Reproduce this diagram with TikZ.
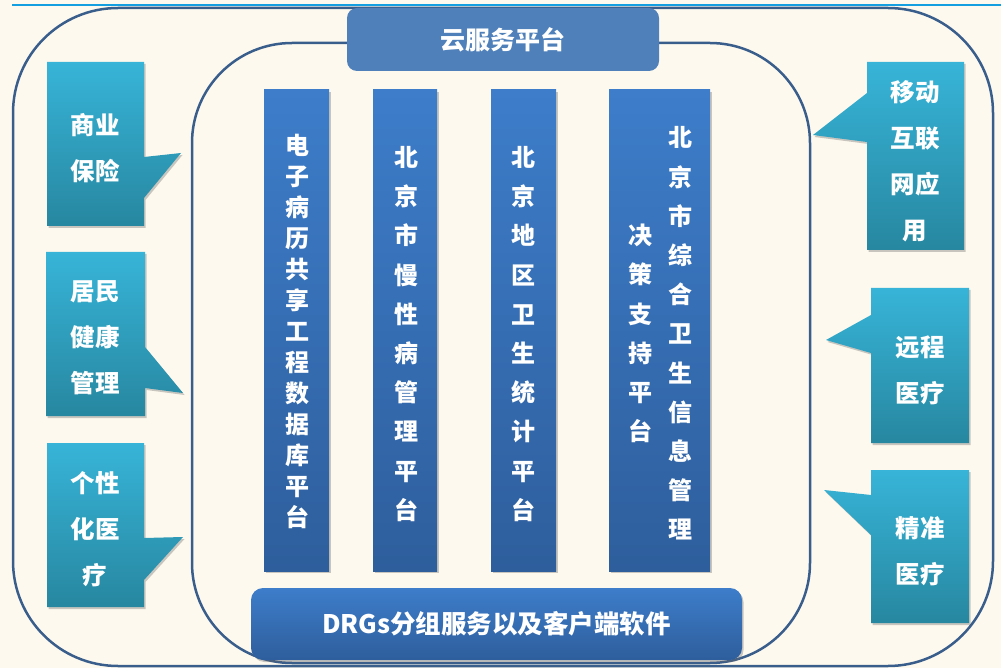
\documentclass[tikz,border=0pt]{standalone}
\usepackage{fontspec}
\setmainfont{Noto Sans CJK SC}
\usetikzlibrary{shadows}
\definecolor{bgc}{HTML}{FEF9EE}
\definecolor{framec}{HTML}{3A5E8C}
\definecolor{topline}{HTML}{14A0E0}
\definecolor{cloudc}{HTML}{4F80BA}
\definecolor{coltop}{HTML}{3D7DCA}
\definecolor{colbot}{HTML}{2E5E9C}
\definecolor{caltop}{HTML}{37B4D8}
\definecolor{calbot}{HTML}{2787A0}
\begin{document}
\begin{tikzpicture}[x=1pt,y=-1pt,
  frame/.style={draw=framec,line width=2.5pt},
  shadowed/.style={drop shadow={shadow xshift=1.5pt,shadow yshift=-2pt,opacity=0.35,fill=black!60}},
  callout/.style={top color=caltop,bottom color=calbot,shadowed},
  colbox/.style={top color=coltop,bottom color=colbot,shadowed,inner sep=0pt,draw=none},
  cloudbox/.style={fill=cloudc,rounded corners=10pt,inner sep=0pt,text=white,font=\bfseries\fontsize{25}{28}\selectfont},
  barbox/.style={top color=coltop,bottom color=colbot,shadowed,rounded corners=12pt,inner sep=0pt,text=white,font=\bfseries\fontsize{25.5}{30}\selectfont},
  lbl/.style={text=white,font=\bfseries\fontsize{24.5}{46}\selectfont,align=center,inner sep=0pt},
  vtxt/.style={text=white,font=\bfseries\fontsize{24}{39.2}\selectfont,align=center,inner sep=0pt},
  vtxtc/.style={text=white,font=\bfseries\fontsize{24}{31}\selectfont,align=center,inner sep=0pt}
]
\useasboundingbox (0,0) rectangle (1001,668);
\fill[bgc] (0,0) rectangle (1001,668);
% top line
\coordinate (tl1) at (12,5);
\coordinate (tl2) at (1001,5);
\draw[topline,line width=2pt] (tl1) -- (tl2);
% frames
\draw[frame,rounded corners=105pt] (13,8) rectangle (993,666);
\draw[frame,rounded corners=100pt] (192,43) rectangle (810,663);
% cloud platform
\node[cloudbox,minimum width=312pt,minimum height=63pt] (cloud) at (503,39.5) {云服务平台};
% columns
\node[colbox,minimum width=65pt,minimum height=481pt] (col1) at (296.5,330.5) {};
\node[colbox,minimum width=64pt,minimum height=481pt] (col2) at (405,330.5) {};
\node[colbox,minimum width=65pt,minimum height=481pt] (col3) at (523.5,330.5) {};
\node[colbox,minimum width=101pt,minimum height=481pt] (col4) at (659.5,330.5) {};
\node[vtxtc] (t1) at (297,331) {电\\子\\病\\历\\共\\享\\工\\程\\数\\据\\库\\平\\台};
\node[vtxt] (t2) at (406,334) {北\\京\\市\\慢\\性\\病\\管\\理\\平\\台};
\node[vtxt] (t3) at (523,334) {北\\京\\地\\区\\卫\\生\\统\\计\\平\\台};
\node[vtxt] (t4a) at (680,333.5) {北\\京\\市\\综\\合\\卫\\生\\信\\息\\管\\理};
\node[vtxt] (t4b) at (640,333.5) {决\\策\\支\\持\\平\\台};
% bottom bar
\node[barbox,minimum width=491pt,minimum height=72pt] (drg) at (496.5,624) {DRGs分组服务以及客户端软件};
% left callouts
\path[callout] (47,62) -- (144,62) -- (144,157) -- (181,153) -- (144,198) -- (144,226) -- (47,226) -- cycle;
\node[lbl] (l1) at (95,148.5) {商业\\保险};
\path[callout] (46,252) -- (145,252) -- (145,347) -- (183,393) -- (145,388) -- (145,416) -- (46,416) -- cycle;
\node[lbl] (l2) at (95,337.5) {居民\\健康\\管理};
\path[callout] (47,443) -- (144,443) -- (144,538) -- (183,537) -- (144,580) -- (144,607) -- (47,607) -- cycle;
\node[lbl] (l3) at (95,529) {个性\\化医\\疗};
% right callouts
\path[callout] (867,62) -- (964,62) -- (964,250) -- (867,250) -- (867,142) -- (813,135) -- (867,93) -- cycle;
\node[lbl] (r1) at (915,161.5) {移动\\互联\\网应\\用};
\path[callout] (871,288) -- (969,288) -- (969,443) -- (871,443) -- (871,353) -- (826,340) -- (871,315) -- cycle;
\node[lbl] (r2) at (920,370) {远程\\医疗};
\path[callout] (871,470) -- (969,470) -- (969,623) -- (871,623) -- (871,535) -- (824,490) -- (871,495) -- cycle;
\node[lbl] (r3) at (920,551.5) {精准\\医疗};
\end{tikzpicture}
\end{document}
